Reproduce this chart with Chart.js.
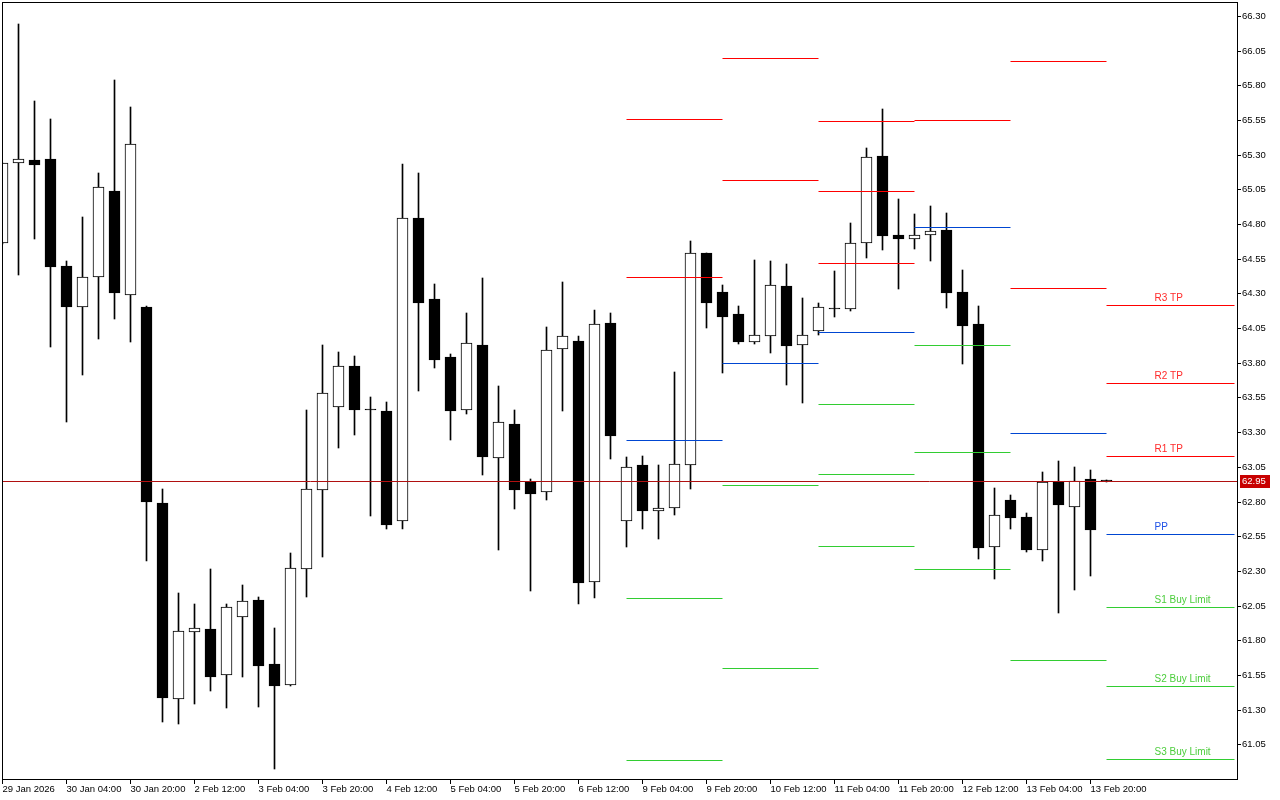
<!DOCTYPE html>
<html><head><meta charset="utf-8">
<script src="https://cdn.jsdelivr.net/npm/chart.js@4.4.1/dist/chart.umd.min.js"></script>
<style>html,body{margin:0;padding:0;background:#fff;overflow:hidden}#wrap{width:1280px;height:800px}</style>
</head><body><div id="wrap"><canvas id="c" width="1280" height="800"></canvas></div>
<script>
// ---- H4 candles (index 0 = 29 Jan 2026 12:00) ----
const open  = [64.661,65.242,65.262,65.269,64.498,64.200,64.416,65.038,64.286,64.202,
               62.789,61.373,61.857,61.880,61.547,61.965,62.092,61.630,61.474,62.311,
               62.880,63.479,63.774,63.457,63.450,62.657,64.841,64.260,63.841,63.457,
               63.928,63.111,63.358,62.940,62.866,63.897,63.957,62.217,64.087,62.657,
               63.063,62.729,62.751,63.061,64.589,64.310,64.151,63.947,63.991,64.353,
               63.926,64.027,64.185,64.185,64.661,65.291,64.721,64.690,64.723,64.759,
               64.310,64.079,62.474,62.810,62.688,62.448,62.940,62.764,62.962,62.950];
const high  = [65.240,66.242,65.687,65.557,64.534,64.851,65.168,65.839,65.644,64.210,
               62.890,62.140,62.061,62.313,62.061,62.198,62.111,61.890,62.428,63.459,
               63.928,63.878,63.849,63.553,63.517,65.233,65.168,64.368,63.863,64.159,
               64.411,63.632,63.459,62.962,64.056,64.382,63.993,64.178,64.157,63.120,
               63.128,63.063,63.733,64.678,64.595,64.361,64.209,64.541,64.534,64.512,
               64.267,64.231,64.462,64.808,65.348,65.629,64.981,64.872,64.930,64.882,
               64.469,64.209,62.897,62.846,62.715,63.012,63.092,63.046,63.027,62.952];
const low   = [64.660,64.435,64.694,63.916,63.375,63.714,63.973,64.118,63.952,62.373,
               61.212,61.198,61.342,61.436,61.313,61.537,61.316,60.869,61.470,62.113,
               62.402,63.188,63.281,62.697,62.604,62.604,63.598,63.764,63.245,63.433,
               62.993,62.452,62.748,62.157,62.813,63.454,62.063,62.106,63.108,62.474,
               62.604,62.531,62.704,62.892,64.053,63.728,63.937,63.937,63.872,63.642,
               63.512,64.002,64.132,64.175,64.557,64.611,64.334,64.620,64.536,64.197,
               63.793,62.385,62.243,62.604,62.438,62.373,61.998,62.162,62.263,62.940];
const close = [65.238,65.267,65.228,64.492,64.204,64.416,65.065,64.301,65.375,62.798,
               61.385,61.864,61.888,61.537,62.039,62.082,61.616,61.472,62.318,62.888,
               63.580,63.774,63.462,63.457,62.632,64.841,64.233,63.822,63.454,63.940,
               63.118,63.371,62.885,62.856,63.890,63.991,62.214,64.077,63.274,63.046,
               62.733,62.751,63.068,64.589,64.233,64.132,63.952,63.998,64.358,63.923,
               63.998,64.200,64.185,64.661,65.281,64.716,64.694,64.719,64.752,64.305,
               64.065,62.467,62.700,62.683,62.452,62.938,62.777,62.945,62.596,62.950];
const currentPrice = 62.95;

// ---- daily pivot levels (segments start/end in bar index) ----
const segStart = [39, 45, 51, 57, 63, 69];
const segEnd   = [45, 51, 57, 63, 69, 77];
const R3 = [null,   null,   65.541, null,   null,   64.214];
const R2 = [65.555, 65.995, 65.036, null,   65.973, 63.652];
const R1 = [64.416, 65.115, 64.517, 65.548, 64.337, 63.126];
const PP = [63.241, 63.796, 64.020, 64.777, 63.291, 62.563];
const S1 = [62.102, 62.916, 63.500, 63.926, 61.655, 62.037];
const S2 = [60.936, 61.597, 62.996, 63.154, null,   61.467];
const S3 = [null,   null,   62.477, 62.311, null,   60.943];
const levelLabels = ['R3 TP','R2 TP','R1 TP','PP','S1 Buy Limit','S2 Buy Limit','S3 Buy Limit'];
const labelIndex = 72;

// ---- axis ticks ----
const xTickIdx = [0,4,8,12,16,20,24,28,32,36,40,44,48,52,56,60,64,68];
const xTickLabels = ['29 Jan 2026','30 Jan 04:00','30 Jan 20:00','2 Feb 12:00','3 Feb 04:00','3 Feb 20:00',
  '4 Feb 12:00','5 Feb 04:00','5 Feb 20:00','6 Feb 12:00','9 Feb 04:00','9 Feb 20:00','10 Feb 12:00',
  '11 Feb 04:00','11 Feb 20:00','12 Feb 12:00','13 Feb 04:00','13 Feb 20:00'];
const yTicks = [66.30,66.05,65.80,65.55,65.30,65.05,64.80,64.55,64.30,64.05,63.80,63.55,63.30,63.05,62.80,62.55,62.30,62.05,61.80,61.55,61.30,61.05];

const RED = '#ff0000', BLUE = '#0046d2', GREEN = '#32cd32', PRICE = '#b01010';
const levels = [R3,R2,R1,PP,S1,S2,S3];
const levelColors = [RED,RED,RED,BLUE,GREEN,GREEN,GREEN];
const labelColors = ['#ff2a2a','#ff2a2a','#ff2a2a','#1e50e6','#4ccd3c','#4ccd3c','#4ccd3c'];

const idx = open.map((_, i) => i);
const isBull = i => close[i] > open[i];

function levelData(arr) {
  const out = [];
  arr.forEach((v, k) => {
    if (v === null) return;
    out.push({x: segStart[k], y: v}, {x: segEnd[k], y: v}, {x: segEnd[k], y: null});
  });
  return out;
}

const datasets = [
  { type: 'bar', label: 'wick', data: idx.map(i => ({x: i, y: [low[i], high[i]]})),
    backgroundColor: '#000', borderWidth: 0, barThickness: 1, grouped: false, minBarLength: 1, order: 3 },
  { type: 'bar', label: 'body', data: idx.map(i => ({x: i, y: [open[i], close[i]]})),
    backgroundColor: c => isBull(c.dataIndex) ? '#fff' : '#000', borderColor: '#000', borderWidth: 1,
    borderSkipped: false, barThickness: 11, grouped: false, minBarLength: 1, order: 2 },
  { type: 'line', label: 'price', data: [{x: -1, y: currentPrice}, {x: 80, y: currentPrice}],
    borderColor: PRICE, borderWidth: 1, pointRadius: 0, fill: false, order: 1 }
];
levels.forEach((arr, k) => datasets.push({
  type: 'line', label: levelLabels[k], data: levelData(arr), borderColor: levelColors[k], borderWidth: 1,
  pointRadius: 0, fill: false, spanGaps: false, tension: 0, order: 0
}));

const crisp = {
  id: 'crisp',
  beforeDatasetDraw(chart, args) { if (args.meta.type === 'line') { chart.ctx.save(); chart.ctx.translate(0, 0.5); } },
  afterDatasetDraw(chart, args) { if (args.meta.type === 'line') chart.ctx.restore(); }
};

const overlay = {
  id: 'overlay',
  afterDraw(chart) {
    const {ctx, chartArea: a, scales: {x, y}} = chart;
    ctx.save();
    ctx.strokeStyle = '#000'; ctx.lineWidth = 1;
    ctx.strokeRect(a.left + 0.5, a.top + 0.5, a.right - a.left - 1, a.bottom - a.top - 1);
    // level labels on current segment
    ctx.font = '10px "Liberation Sans", Arial, sans-serif';
    ctx.textAlign = 'left'; ctx.textBaseline = 'bottom';
    levels.forEach((arr, k) => {
      const v = arr[arr.length - 1];
      if (v === null) return;
      ctx.fillStyle = labelColors[k];
      ctx.fillText(levelLabels[k], x.getPixelForValue(labelIndex), Math.round(y.getPixelForValue(v)) - 2);
    });
    // price tag
    const py = Math.round(y.getPixelForValue(currentPrice));
    ctx.fillStyle = '#c80000';
    ctx.fillRect(a.right + 2, py - 6, 30, 13);
    ctx.fillStyle = '#fff';
    ctx.font = '9.5px "Liberation Sans", Arial, sans-serif';
    ctx.textBaseline = 'middle';
    ctx.fillText(currentPrice.toFixed(2), a.right + 4, py + 0.5);
    ctx.restore();
  }
};

Chart.defaults.font.family = '"Liberation Sans", Arial, sans-serif';
Chart.defaults.font.size = 9.5;
Chart.defaults.color = '#000';

new Chart(document.getElementById('c'), {
  type: 'bar',
  data: { datasets },
  options: {
    responsive: false, animation: false, devicePixelRatio: 1,
    layout: { padding: { left: 2, top: 2, right: 0, bottom: 0 } },
    plugins: { legend: { display: false }, tooltip: { enabled: false } },
    scales: {
      x: {
        type: 'linear', position: 'bottom', min: -0.03125, max: 77.21875, offset: false,
        grid: { display: true, offset: false, drawOnChartArea: false, drawTicks: true, tickLength: 4, color: '#000', lineWidth: 1 },
        border: { display: false },
        ticks: { autoSkip: false, maxRotation: 0, minRotation: 0, align: 'start', padding: 0,
                 callback: (v, i) => xTickLabels[i] },
        afterBuildTicks: s => { s.ticks = xTickIdx.map(v => ({value: v})); },
        afterFit: s => { s.height = 20; s.paddingLeft = 0; s.paddingRight = 0; }
      },
      y: {
        type: 'linear', position: 'right', min: 60.7925, max: 66.401, beginAtZero: false, alignToPixels: true,
        grid: { display: true, drawOnChartArea: false, drawTicks: true, tickLength: 3, color: '#000', lineWidth: 1 },
        border: { display: false },
        ticks: { autoSkip: false, padding: 1, crossAlign: 'near', callback: v => Number(v).toFixed(2) },
        afterBuildTicks: s => { s.ticks = yTicks.map(v => ({value: v})); },
        afterFit: s => { s.width = 42; s.paddingTop = 0; s.paddingBottom = 0; }
      }
    }
  },
  plugins: [crisp, overlay]
});
</script>
</body></html>
